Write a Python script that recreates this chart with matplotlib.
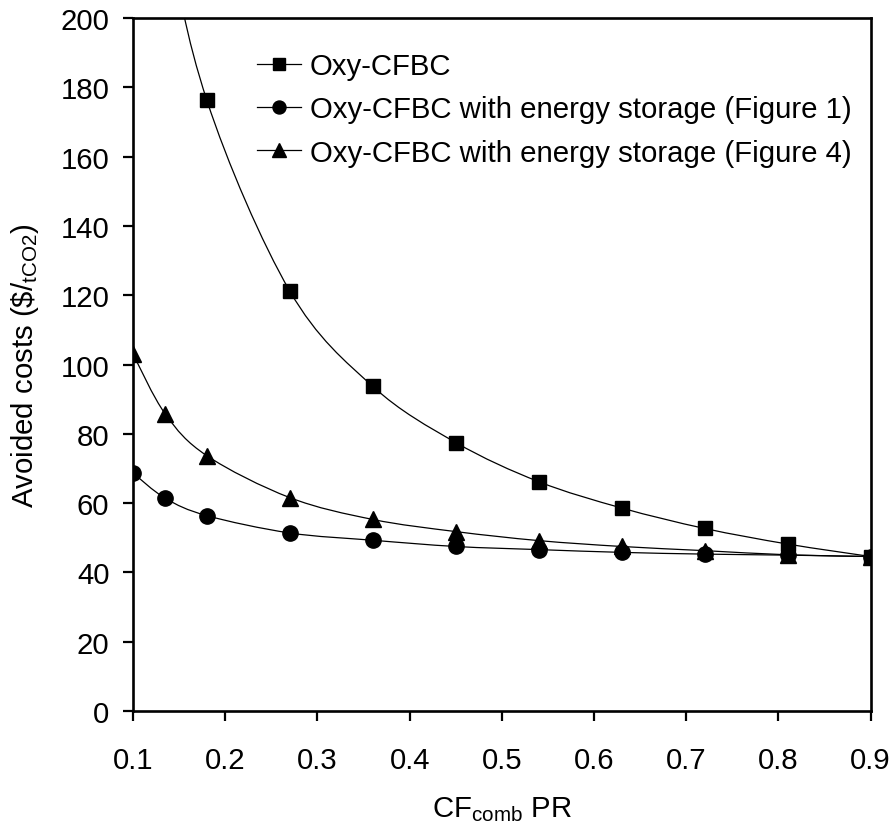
import numpy as np
import matplotlib
matplotlib.use("Agg")
import matplotlib.pyplot as plt
from matplotlib.path import Path
from matplotlib.patches import PathPatch
from matplotlib.lines import Line2D

plt.rcParams['font.family'] = ['Liberation Sans', 'DejaVu Sans']
plt.rcParams['mathtext.fontset'] = 'custom'
plt.rcParams['mathtext.rm'] = 'Liberation Sans'
plt.rcParams['mathtext.it'] = 'Liberation Sans:italic'

# data
cf_pr = [0.1, 0.135, 0.18, 0.27, 0.36, 0.45, 0.54, 0.63, 0.72, 0.81, 0.9]
oxy_cfbc = [308, 231, 176.3, 121.2, 93.7, 77.5, 66.2, 58.6, 52.7, 48.2, 44.6]
oxy_storage_fig1 = [68.7, 61.4, 56.4, 51.4, 49.3, 47.5, 46.6, 45.8, 45.3, 45.0, 44.6]
oxy_storage_fig4 = [103.0, 85.7, 73.7, 61.6, 55.3, 51.8, 49.2, 47.5, 46.3, 45.1, 44.6]

labels = ['Oxy-CFBC',
          'Oxy-CFBC with energy storage (Figure 1)',
          'Oxy-CFBC with energy storage (Figure 4)']
markers = ['s', 'o', '^']
msizes = [10.5, 11, 12]
FS = 21.2


def smooth_path(x, y):
    # Catmull-Rom style bezier through the points (like Excel's smoothed line)
    x = np.asarray(x, float)
    y = np.asarray(y, float)
    verts = [(x[0], y[0])]
    codes = [Path.MOVETO]
    n = len(x)
    for i in range(n - 1):
        i0 = max(i - 1, 0)
        i3 = min(i + 2, n - 1)
        c1 = (x[i] + (x[i + 1] - x[i0]) / 6, y[i] + (y[i + 1] - y[i0]) / 6)
        c2 = (x[i + 1] - (x[i3] - x[i]) / 6, y[i + 1] - (y[i3] - y[i]) / 6)
        verts += [c1, c2, (x[i + 1], y[i + 1])]
        codes += [Path.CURVE4] * 3
    return Path(verts, codes)


fig = plt.figure(figsize=(8.93, 8.28), dpi=100)
ax = fig.add_axes([0.149, 0.140, 0.826, 0.837])

handles = []
for ys, m, ms, lab in zip([oxy_cfbc, oxy_storage_fig1, oxy_storage_fig4], markers, msizes, labels):
    ax.add_patch(PathPatch(smooth_path(cf_pr, ys), facecolor='none', edgecolor='black', lw=0.9))
    ax.plot(cf_pr, ys, ls='none', marker=m, ms=ms, color='black')
    handles.append(Line2D([], [], color='black', lw=0.9, marker=m, ms=ms * 0.85, label=lab))

ax.set_xlim(0.1, 0.9)
ax.set_ylim(0, 200)
ax.set_xticks(np.arange(0.1, 0.91, 0.1))
ax.set_xticklabels(['0.1', '0.2', '0.3', '0.4', '0.5', '0.6', '0.7', '0.8', '0.9'])
ax.set_yticks(np.arange(0, 201, 20))

for s in ax.spines.values():
    s.set_linewidth(1.9)
ax.tick_params(axis='both', direction='out', length=7, width=1.6, labelsize=FS)
ax.tick_params(axis='y', pad=10)
ax.tick_params(axis='x', pad=18)

ax.set_xlabel(r'CF$_{\mathrm{comb}}$ PR', fontsize=FS, labelpad=15)
ax.set_ylabel(r'Avoided costs (\$/$_{\mathrm{tCO2}}$)', fontsize=FS, labelpad=14)

ax.legend(handles=handles, loc='upper left', bbox_to_anchor=(0.152, 0.968),
          frameon=False, fontsize=FS, handlelength=1.5, handletextpad=0.3,
          labelspacing=0.52, borderaxespad=0)

fig.savefig('out.png', dpi=100)
